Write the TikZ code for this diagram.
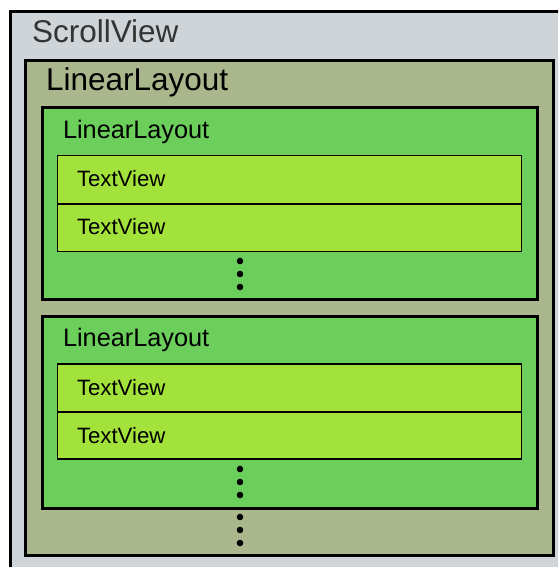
\documentclass[tikz,border=0pt]{standalone}
\usepackage{fontspec}
\setmainfont{Liberation Sans}
\definecolor{scrollgrey}{HTML}{CED4D8}
\definecolor{layoutolive}{HTML}{AAB68B}
\definecolor{layoutgreen}{HTML}{6CCF5C}
\definecolor{textgreen}{HTML}{A3E23B}
\definecolor{labelgrey}{HTML}{333333}
\tikzset{
  frame/.style={draw=black, line width=3pt},
  rowbox/.style={draw=black, line width=1.5pt, fill=textgreen},
  lbl/.style={anchor=base west, inner sep=0pt, outer sep=0pt},
  bigtitle/.style={lbl, font=\fontsize{31.5}{36}\selectfont},
  midtitle/.style={lbl, font=\fontsize{25.3}{30}\selectfont},
  rowtitle/.style={lbl, font=\fontsize{22.2}{26}\selectfont},
  dotmark/.style={circle, fill=black, inner sep=0pt, minimum size=6.6pt},
}
\begin{document}
\begin{tikzpicture}[x=1pt, y=-1pt]
  \useasboundingbox (0,0) rectangle (558,567);
  \clip (0,0) rectangle (558,567);
  \fill[white] (0,0) rectangle (558,567);

  % ScrollView (runs past the right and bottom edges)
  \path[frame, fill=scrollgrey] (10.5,12) rectangle (580,590);
  \node[bigtitle, text=labelgrey] (scrolltitle) at (32,43) {ScrollView};

  % outer LinearLayout
  \path[frame, fill=layoutolive] (25.5,60.5) rectangle (553.5,555.5);
  \node[bigtitle] (outertitle) at (46,91) {LinearLayout};

  % first inner LinearLayout
  \path[frame, fill=layoutgreen] (42,108) rectangle (537,299.5);
  \node[midtitle] (innertitleA) at (63,139) {LinearLayout};
  \path[rowbox] (57.5,155.7) rectangle (521.5,204);
  \path[rowbox] (57.5,204) rectangle (521.5,251.3);
  \node[rowtitle] (textA1) at (77,186.7) {TextView};
  \node[rowtitle] (textA2) at (77,234.5) {TextView};
  \node[dotmark] (dotA1) at (240,261) {};
  \node[dotmark] (dotA2) at (240,274) {};
  \node[dotmark] (dotA3) at (240,287) {};

  % second inner LinearLayout
  \path[frame, fill=layoutgreen] (42,316) rectangle (537,508);
  \node[midtitle] (innertitleB) at (63,346.5) {LinearLayout};
  \path[rowbox] (57.5,364) rectangle (521.5,412);
  \path[rowbox] (57.5,412) rectangle (521.5,459);
  \node[rowtitle] (textB1) at (77,395) {TextView};
  \node[rowtitle] (textB2) at (77,443) {TextView};
  \node[dotmark] (dotB1) at (240,469) {};
  \node[dotmark] (dotB2) at (240,482) {};
  \node[dotmark] (dotB3) at (240,495) {};

  % more children of the outer LinearLayout
  \node[dotmark] (dotC1) at (240,517) {};
  \node[dotmark] (dotC2) at (240,530) {};
  \node[dotmark] (dotC3) at (240,543) {};
\end{tikzpicture}
\end{document}
